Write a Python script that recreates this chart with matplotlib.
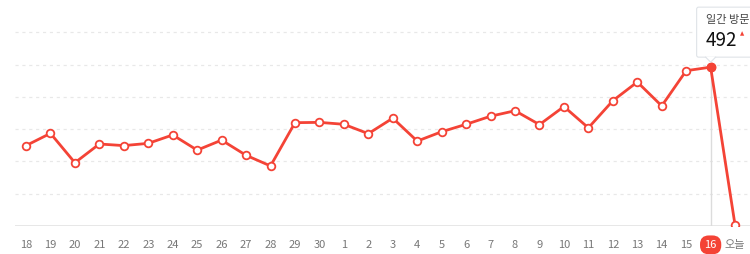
import matplotlib
matplotlib.use("Agg")
import matplotlib.pyplot as plt
import matplotlib.transforms as mtransforms
from matplotlib.patches import FancyBboxPatch, Polygon

plt.rcParams['font.family'] = ['Noto Sans CJK KR', 'DejaVu Sans']

# Daily visitor counts
labels = ['18', '19', '20', '21', '22', '23', '24', '25', '26', '27', '28', '29', '30',
          '1', '2', '3', '4', '5', '6', '7', '8', '9', '10', '11', '12', '13', '14',
          '15', '16', '오늘']
visits = [249, 287, 196, 254, 249, 256, 282, 235, 266, 219, 186, 320, 321,
          315, 286, 334, 263, 292, 315, 340, 357, 314, 370, 304, 388, 446, 372,
          481, 492, 2]
sel = 28  # highlighted day (16)
tooltip_title = '일간 방문수'

red = '#f44336'
x = list(range(len(labels)))

fig = plt.figure(figsize=(7.5, 2.54), dpi=100)
ax = fig.add_axes([15 / 750, 28 / 254, 735 / 750, 226 / 254])
ax.set_xlim(-0.45, 29.61)
ax.set_ylim(0, 700)

# grid
for v in range(100, 700, 100):
    ax.axhline(v, color='#e8e8e8', lw=0.9, ls=(0, (2.5, 3)), zorder=0)
ax.axhline(0, color='#e3e3e3', lw=1.2, zorder=0)

# hover line
ax.plot([sel, sel], [0, visits[sel]], color='#dcdcdc', lw=1, zorder=1)

ax.plot(x, visits, color=red, lw=2, marker='o', ms=5.5, mfc='white', mec=red,
        mew=1.3, zorder=3)
ax.plot([sel], [visits[sel]], marker='o', ms=6, color=red, zorder=4)

for s in ax.spines.values():
    s.set_visible(False)
ax.set_yticks([])
ax.set_xticks(x)
ax.set_xticklabels(labels, fontsize=8, color='#777777')
ax.tick_params(axis='x', length=0, pad=10)
tl = ax.get_xticklabels()[sel]
tl.set_color('white')
tl.set_bbox(dict(boxstyle='round,pad=0.4,rounding_size=0.8', fc=red, ec='none'))

# tooltip, offsets in pixels from the highlighted point
trans = mtransforms.Affine2D() + mtransforms.ScaledTranslation(sel, visits[sel], ax.transData)
box = FancyBboxPatch((-14, 10), 90, 50, boxstyle='round,pad=0,rounding_size=2',
                     fc='white', ec='#dfe3e8', lw=0.8, transform=trans, clip_on=False, zorder=10)
ax.add_patch(box)
ax.add_patch(Polygon([(-5, 10.6), (5, 10.6), (0, 5)], closed=True, fc='white', ec='none',
                     transform=trans, clip_on=False, zorder=11))
ax.plot([-5, 0, 5], [10, 5, 10], color='#dfe3e8', lw=0.8, transform=trans,
        clip_on=False, zorder=11)
ax.text(-5, 47, tooltip_title, fontsize=8, color='#444444', va='center', ha='left',
        transform=trans, zorder=12)
ax.text(-5, 27, str(visits[sel]), fontsize=13.5, color='#111111', va='center', ha='left',
        transform=trans, zorder=12)
ax.text(31, 33, '▲', fontsize=4, color=red, va='center', ha='center',
        transform=trans, zorder=12, family='DejaVu Sans')

fig.savefig('out.png', dpi=100)
